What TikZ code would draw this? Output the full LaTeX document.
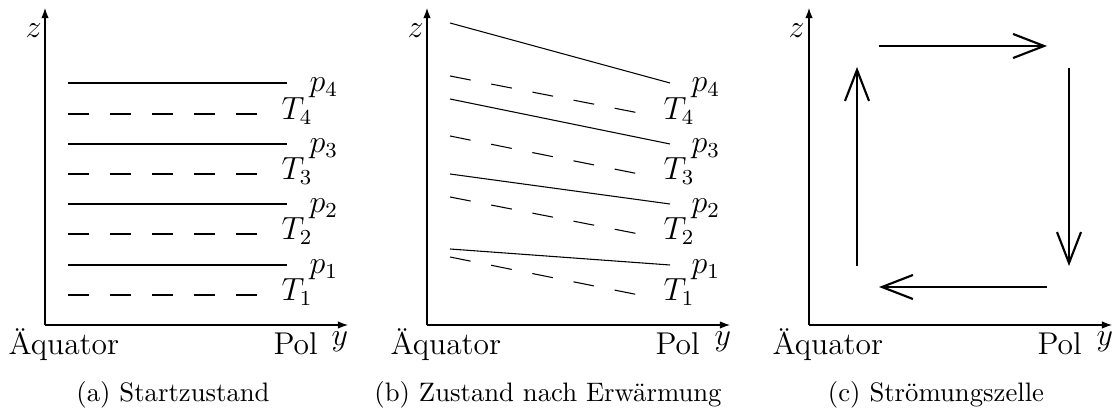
\documentclass[tikz,border=0pt]{standalone}
\usetikzlibrary{arrows.meta}
\begin{document}
\begin{tikzpicture}[x=0.3745pt,y=-0.3745pt,
  axis/.style={line width=0.4pt,-{Latex[length=3.8pt,width=2.8pt]}},
  iso/.style={line width=0.4pt},
  isoT/.style={line width=0.4pt,dash pattern=on 7.86pt off 7.86pt},
  lbl/.style={inner sep=0pt,anchor=base west,font=\fontsize{11.8}{14}\selectfont},
  captext/.style={inner sep=0pt,anchor=base,font=\fontsize{10}{12}\selectfont},
  flow/.style={line width=0.8pt,-{Straight Barb[length=11.6pt,width=9pt]}}]
\useasboundingbox (0,0) rectangle (1115,411);

% ---------- panel (a)
\coordinate (Oa) at (45,325);
\coordinate (Za) at (45,8);
\coordinate (Ya) at (348,325);
\draw[axis] (Oa) -- (Za);
\draw[axis] (Oa) -- (Ya);
\node[lbl] (za) at (25,38) {$z$};
\node[lbl] (aqa) at (8,355) {Äquator};
\node[lbl] (pola) at (273,355) {Pol};
\node[lbl] (ya) at (331,346) {$y$};
\node[captext] (capa) at (173,401) {(a) Startzustand};
\foreach \y/\i in {83/4,144/3,204/2,265/1}{
  \draw[iso] (68,\y) -- (287,\y);
  \node[lbl] (pa\i) at (309,\y+9) {$p_\i$};
}
\foreach \y/\i in {114/4,174/3,234/2,295/1}{
  \draw[isoT] (68,\y) -- (258,\y);
  \node[lbl] (Ta\i) at (281,\y+6) {$T_\i$};
}

% ---------- panel (b)
\coordinate (Ob) at (427,325);
\coordinate (Zb) at (427,8);
\coordinate (Yb) at (730,325);
\draw[axis] (Ob) -- (Zb);
\draw[axis] (Ob) -- (Yb);
\node[lbl] (zb) at (407,38) {$z$};
\node[lbl] (aqb) at (390,355) {Äquator};
\node[lbl] (polb) at (655,355) {Pol};
\node[lbl] (yb) at (714,346) {$y$};
\node[captext] (capb) at (548,401) {(b) Zustand nach Erwärmung};
\foreach \ya/\yb/\i/\yl in {23/83/4/92,99/144/3/153,174/204/2/213,249/265/1/274}{
  \draw[iso] (450,\ya) -- (670,\yb);
  \node[lbl] (pb\i) at (691,\yl) {$p_\i$};
}
\foreach \ya/\yb/\i/\yl in {76/113/4/120,136/174/3/180,197/234/2/240,257/295/1/301}{
  \draw[isoT] (450,\ya) -- (639,\yb);
  \node[lbl] (Tb\i) at (663,\yl) {$T_\i$};
}

% ---------- panel (c)
\coordinate (Oc) at (809,325);
\coordinate (Zc) at (809,8);
\coordinate (Yc) at (1112,325);
\draw[axis] (Oc) -- (Zc);
\draw[axis] (Oc) -- (Yc);
\node[lbl] (zc) at (788,38) {$z$};
\node[lbl] (aqc) at (772,355) {Äquator};
\node[lbl] (polc) at (1037,355) {Pol};
\node[lbl] (yc) at (1096,346) {$y$};
\node[captext] (capc) at (936,401) {(c) Strömungszelle};
\coordinate (t1) at (879,46);
\coordinate (t2) at (1047,46);
\coordinate (r1) at (1069,68);
\coordinate (r2) at (1069,266);
\coordinate (b1) at (1047,287);
\coordinate (b2) at (879,287);
\coordinate (l1) at (857,266);
\coordinate (l2) at (857,67);
\draw[flow] (t1) -- (t2);
\draw[flow] (r1) -- (r2);
\draw[flow] (b1) -- (b2);
\draw[flow] (l1) -- (l2);
\end{tikzpicture}
\end{document}
